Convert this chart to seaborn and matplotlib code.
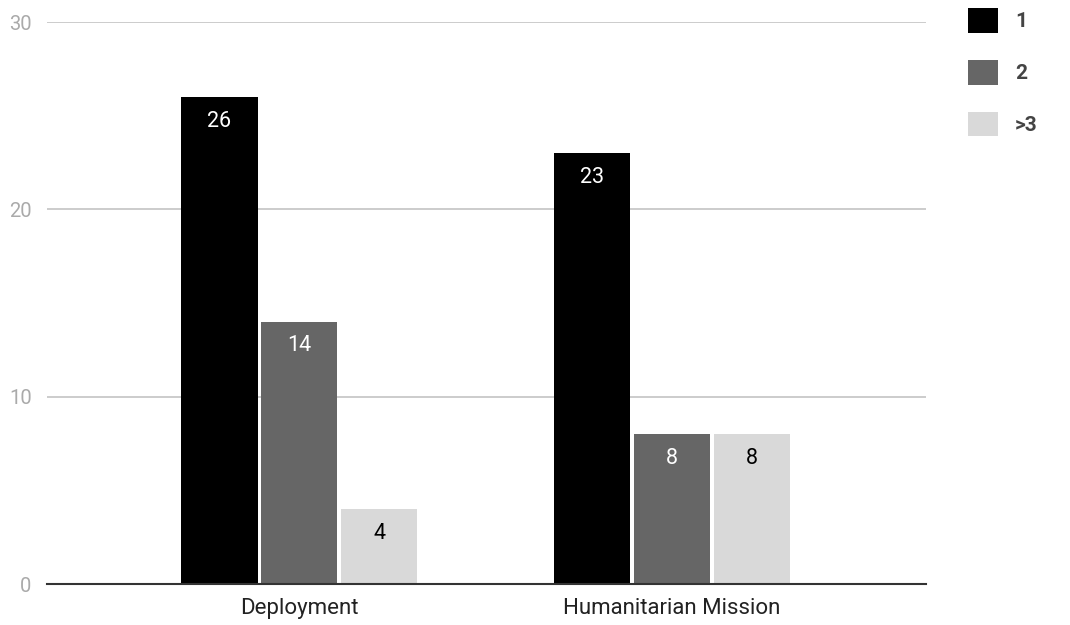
import pandas as pd
import matplotlib
matplotlib.use("Agg")
import matplotlib.pyplot as plt
import seaborn as sns

# data
missions = ["Deployment", "Humanitarian Mission"]
groups = ["1", "2", ">3"]
deployment = [26, 14, 4]
humanitarian = [23, 8, 8]

colors = ["#000000", "#666666", "#d9d9d9"]
label_colors = ["white", "white", "black"]

df = pd.DataFrame({
    "Mission": [missions[0]] * 3 + [missions[1]] * 3,
    "Group": groups + groups,
    "Count": deployment + humanitarian,
})

sns.set_style("white")
plt.rcParams["font.family"] = ["Roboto", "DejaVu Sans"]

fig = plt.figure(figsize=(10.7, 6.25), dpi=100)
ax = fig.add_axes([47 / 1070, 41 / 625, 879 / 1070, 562 / 625])

sns.barplot(data=df, x="Mission", y="Count", hue="Group", hue_order=groups,
            palette=colors, width=0.643, gap=0.04, ax=ax, saturation=1,
            linewidth=0)

ax.set_ylim(0, 30)
ax.set_xlim(-0.676, 1.681)
ax.set_yticks([0, 10, 20, 30])
ax.yaxis.grid(True, color="#cccccc", linewidth=1.4)
ax.set_axisbelow(True)
for s in ["top", "right", "left"]:
    ax.spines[s].set_visible(False)
ax.spines["bottom"].set_color("#333333")
ax.spines["bottom"].set_linewidth(1.5)
ax.set_xlabel("")
ax.set_ylabel("")
ax.tick_params(axis="y", length=0, labelsize=14.5, labelcolor="#aaaaaa", pad=11)
ax.tick_params(axis="x", length=0, labelsize=16, labelcolor="#222222", pad=10)

# value labels inside the top of each bar
for cont, c in zip(ax.containers, label_colors):
    ax.bar_label(cont, label_type="edge", padding=-25, color=c, fontsize=15.5)

sns.move_legend(ax, "upper left", bbox_to_anchor=(968 / 1070, 1 - 8 / 625),
                bbox_transform=fig.transFigure, frameon=False, title=None,
                fontsize=15, handlelength=1.45, handleheight=1.45,
                labelspacing=1.3, handletextpad=0.8, borderpad=0,
                borderaxespad=0)
for t in ax.get_legend().get_texts():
    t.set_color("#444444")
    t.set_fontweight("bold")

fig.savefig("out.png", dpi=100)
